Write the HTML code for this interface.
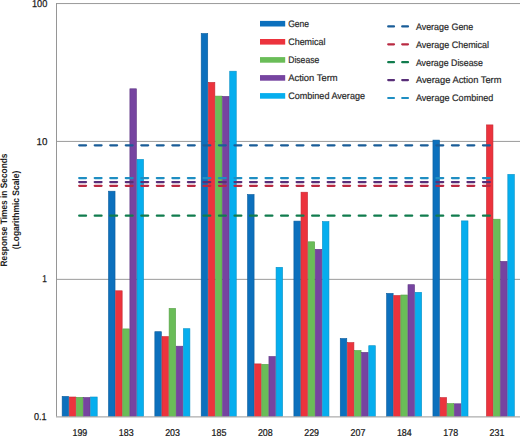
<!DOCTYPE html><html><head><meta charset="utf-8"><style>html,body{margin:0;padding:0;background:#fff;overflow:hidden;}svg{display:block;text-rendering:geometricPrecision;}</style></head><body>
<svg width="520" height="436" viewBox="0 0 520 436" font-family='"Liberation Sans", sans-serif'>
<rect width="520" height="436" fill="#fff"/>
<line x1="56.50" y1="3.55" x2="520" y2="3.55" stroke="#9a9a9a" stroke-width="1"/>
<line x1="56.50" y1="141.42" x2="520" y2="141.42" stroke="#9a9a9a" stroke-width="1"/>
<line x1="56.50" y1="279.35" x2="520" y2="279.35" stroke="#9a9a9a" stroke-width="1"/>
<rect x="62.15" y="396.40" width="6.53" height="20.30" fill="#0c70bd" stroke="#0b5c9c" stroke-width="0.6"/>
<rect x="69.28" y="397.00" width="6.53" height="19.70" fill="#ec333d" stroke="#c42a34" stroke-width="0.6"/>
<rect x="76.41" y="397.30" width="6.53" height="19.40" fill="#6abd58" stroke="#58a048" stroke-width="0.6"/>
<rect x="83.54" y="397.50" width="6.53" height="19.20" fill="#7644a0" stroke="#5f3684" stroke-width="0.6"/>
<rect x="90.67" y="397.00" width="6.53" height="19.70" fill="#06aeee" stroke="#0890c6" stroke-width="0.6"/>
<rect x="108.50" y="191.20" width="6.53" height="225.50" fill="#0c70bd" stroke="#0b5c9c" stroke-width="0.6"/>
<rect x="115.63" y="290.80" width="6.53" height="125.90" fill="#ec333d" stroke="#c42a34" stroke-width="0.6"/>
<rect x="122.76" y="328.90" width="6.53" height="87.80" fill="#6abd58" stroke="#58a048" stroke-width="0.6"/>
<rect x="129.89" y="88.80" width="6.53" height="327.90" fill="#7644a0" stroke="#5f3684" stroke-width="0.6"/>
<rect x="137.02" y="159.40" width="6.53" height="257.30" fill="#06aeee" stroke="#0890c6" stroke-width="0.6"/>
<rect x="154.85" y="331.70" width="6.53" height="85.00" fill="#0c70bd" stroke="#0b5c9c" stroke-width="0.6"/>
<rect x="161.98" y="336.60" width="6.53" height="80.10" fill="#ec333d" stroke="#c42a34" stroke-width="0.6"/>
<rect x="169.11" y="308.40" width="6.53" height="108.30" fill="#6abd58" stroke="#58a048" stroke-width="0.6"/>
<rect x="176.24" y="346.20" width="6.53" height="70.50" fill="#7644a0" stroke="#5f3684" stroke-width="0.6"/>
<rect x="183.37" y="328.70" width="6.53" height="88.00" fill="#06aeee" stroke="#0890c6" stroke-width="0.6"/>
<rect x="201.20" y="33.50" width="6.53" height="383.20" fill="#0c70bd" stroke="#0b5c9c" stroke-width="0.6"/>
<rect x="208.33" y="82.40" width="6.53" height="334.30" fill="#ec333d" stroke="#c42a34" stroke-width="0.6"/>
<rect x="215.46" y="96.10" width="6.53" height="320.60" fill="#6abd58" stroke="#58a048" stroke-width="0.6"/>
<rect x="222.59" y="96.40" width="6.53" height="320.30" fill="#7644a0" stroke="#5f3684" stroke-width="0.6"/>
<rect x="229.72" y="71.20" width="6.53" height="345.50" fill="#06aeee" stroke="#0890c6" stroke-width="0.6"/>
<rect x="247.55" y="194.50" width="6.53" height="222.20" fill="#0c70bd" stroke="#0b5c9c" stroke-width="0.6"/>
<rect x="254.68" y="363.90" width="6.53" height="52.80" fill="#ec333d" stroke="#c42a34" stroke-width="0.6"/>
<rect x="261.81" y="364.30" width="6.53" height="52.40" fill="#6abd58" stroke="#58a048" stroke-width="0.6"/>
<rect x="268.94" y="356.50" width="6.53" height="60.20" fill="#7644a0" stroke="#5f3684" stroke-width="0.6"/>
<rect x="276.07" y="267.30" width="6.53" height="149.40" fill="#06aeee" stroke="#0890c6" stroke-width="0.6"/>
<rect x="293.90" y="221.10" width="6.53" height="195.60" fill="#0c70bd" stroke="#0b5c9c" stroke-width="0.6"/>
<rect x="301.03" y="192.20" width="6.53" height="224.50" fill="#ec333d" stroke="#c42a34" stroke-width="0.6"/>
<rect x="308.16" y="241.80" width="6.53" height="174.90" fill="#6abd58" stroke="#58a048" stroke-width="0.6"/>
<rect x="315.29" y="249.30" width="6.53" height="167.40" fill="#7644a0" stroke="#5f3684" stroke-width="0.6"/>
<rect x="322.42" y="221.60" width="6.53" height="195.10" fill="#06aeee" stroke="#0890c6" stroke-width="0.6"/>
<rect x="340.25" y="338.50" width="6.53" height="78.20" fill="#0c70bd" stroke="#0b5c9c" stroke-width="0.6"/>
<rect x="347.38" y="342.60" width="6.53" height="74.10" fill="#ec333d" stroke="#c42a34" stroke-width="0.6"/>
<rect x="354.51" y="350.50" width="6.53" height="66.20" fill="#6abd58" stroke="#58a048" stroke-width="0.6"/>
<rect x="361.64" y="352.40" width="6.53" height="64.30" fill="#7644a0" stroke="#5f3684" stroke-width="0.6"/>
<rect x="368.77" y="345.70" width="6.53" height="71.00" fill="#06aeee" stroke="#0890c6" stroke-width="0.6"/>
<rect x="386.60" y="293.40" width="6.53" height="123.30" fill="#0c70bd" stroke="#0b5c9c" stroke-width="0.6"/>
<rect x="393.73" y="295.50" width="6.53" height="121.20" fill="#ec333d" stroke="#c42a34" stroke-width="0.6"/>
<rect x="400.86" y="295.00" width="6.53" height="121.70" fill="#6abd58" stroke="#58a048" stroke-width="0.6"/>
<rect x="407.99" y="284.70" width="6.53" height="132.00" fill="#7644a0" stroke="#5f3684" stroke-width="0.6"/>
<rect x="415.12" y="292.30" width="6.53" height="124.40" fill="#06aeee" stroke="#0890c6" stroke-width="0.6"/>
<rect x="432.95" y="140.10" width="6.53" height="276.60" fill="#0c70bd" stroke="#0b5c9c" stroke-width="0.6"/>
<rect x="440.08" y="397.60" width="6.53" height="19.10" fill="#ec333d" stroke="#c42a34" stroke-width="0.6"/>
<rect x="447.21" y="403.60" width="6.53" height="13.10" fill="#6abd58" stroke="#58a048" stroke-width="0.6"/>
<rect x="454.34" y="403.80" width="6.53" height="12.90" fill="#7644a0" stroke="#5f3684" stroke-width="0.6"/>
<rect x="461.47" y="220.90" width="6.53" height="195.80" fill="#06aeee" stroke="#0890c6" stroke-width="0.6"/>
<rect x="486.43" y="124.90" width="6.53" height="291.80" fill="#ec333d" stroke="#c42a34" stroke-width="0.6"/>
<rect x="493.56" y="219.20" width="6.53" height="197.50" fill="#6abd58" stroke="#58a048" stroke-width="0.6"/>
<rect x="500.69" y="261.40" width="6.53" height="155.30" fill="#7644a0" stroke="#5f3684" stroke-width="0.6"/>
<rect x="507.82" y="174.40" width="6.53" height="242.30" fill="#06aeee" stroke="#0890c6" stroke-width="0.6"/>
<line x1="56.50" y1="3" x2="56.50" y2="416.70" stroke="#969696" stroke-width="1"/>
<line x1="56.00" y1="416.90" x2="520" y2="416.90" stroke="#adadad" stroke-width="1.3"/>
<line x1="79.22" y1="145.30" x2="495.68" y2="145.30" stroke="#1a5d98" stroke-width="2.3" stroke-linecap="round" stroke-dasharray="6.8 8.73"/>
<line x1="79.22" y1="215.70" x2="495.68" y2="215.70" stroke="#117c4e" stroke-width="2.3" stroke-linecap="round" stroke-dasharray="6.8 8.73"/>
<line x1="79.22" y1="185.80" x2="495.68" y2="185.80" stroke="#b92a42" stroke-width="2.3" stroke-linecap="round" stroke-dasharray="6.8 8.73"/>
<line x1="79.22" y1="182.10" x2="495.68" y2="182.10" stroke="#582e78" stroke-width="2.3" stroke-linecap="round" stroke-dasharray="6.8 8.73"/>
<line x1="79.22" y1="178.10" x2="495.68" y2="178.10" stroke="#1f8ec2" stroke-width="2.3" stroke-linecap="round" stroke-dasharray="6.8 8.73"/>
<text x="31.95" y="6.90" font-size="10.00" fill="#1a1a1a" stroke="#1a1a1a" stroke-width="0.25" textLength="15.35" lengthAdjust="spacingAndGlyphs">100</text>
<text x="36.55" y="144.70" font-size="10.00" fill="#1a1a1a" stroke="#1a1a1a" stroke-width="0.25" textLength="10.85" lengthAdjust="spacingAndGlyphs">10</text>
<text x="42.35" y="282.30" font-size="10.00" fill="#1a1a1a" stroke="#1a1a1a" stroke-width="0.25" textLength="4.60" lengthAdjust="spacingAndGlyphs">1</text>
<text x="34.00" y="419.60" font-size="10.00" fill="#1a1a1a" stroke="#1a1a1a" stroke-width="0.25" textLength="12.60" lengthAdjust="spacingAndGlyphs">0.1</text>
<text x="79.88" y="436.20" font-size="10.00" text-anchor="middle" fill="#1a1a1a" stroke="#1a1a1a" stroke-width="0.25" textLength="14.80" lengthAdjust="spacingAndGlyphs">199</text>
<text x="126.23" y="436.20" font-size="10.00" text-anchor="middle" fill="#1a1a1a" stroke="#1a1a1a" stroke-width="0.25" textLength="14.80" lengthAdjust="spacingAndGlyphs">183</text>
<text x="172.57" y="436.20" font-size="10.00" text-anchor="middle" fill="#1a1a1a" stroke="#1a1a1a" stroke-width="0.25" textLength="14.80" lengthAdjust="spacingAndGlyphs">203</text>
<text x="218.92" y="436.20" font-size="10.00" text-anchor="middle" fill="#1a1a1a" stroke="#1a1a1a" stroke-width="0.25" textLength="14.80" lengthAdjust="spacingAndGlyphs">185</text>
<text x="265.28" y="436.20" font-size="10.00" text-anchor="middle" fill="#1a1a1a" stroke="#1a1a1a" stroke-width="0.25" textLength="14.80" lengthAdjust="spacingAndGlyphs">208</text>
<text x="311.62" y="436.20" font-size="10.00" text-anchor="middle" fill="#1a1a1a" stroke="#1a1a1a" stroke-width="0.25" textLength="14.80" lengthAdjust="spacingAndGlyphs">229</text>
<text x="357.98" y="436.20" font-size="10.00" text-anchor="middle" fill="#1a1a1a" stroke="#1a1a1a" stroke-width="0.25" textLength="14.80" lengthAdjust="spacingAndGlyphs">207</text>
<text x="404.32" y="436.20" font-size="10.00" text-anchor="middle" fill="#1a1a1a" stroke="#1a1a1a" stroke-width="0.25" textLength="14.80" lengthAdjust="spacingAndGlyphs">184</text>
<text x="450.68" y="436.20" font-size="10.00" text-anchor="middle" fill="#1a1a1a" stroke="#1a1a1a" stroke-width="0.25" textLength="14.80" lengthAdjust="spacingAndGlyphs">178</text>
<text x="497.02" y="436.20" font-size="10.00" text-anchor="middle" fill="#1a1a1a" stroke="#1a1a1a" stroke-width="0.25" textLength="14.80" lengthAdjust="spacingAndGlyphs">231</text>
<g transform="translate(0,210) rotate(-90)"><text x="0" y="7.3" font-size="9.4" font-weight="bold" text-anchor="middle" fill="#222" textLength="112.9" lengthAdjust="spacingAndGlyphs">Response Times in Seconds</text><text x="0" y="19.4" font-size="9.4" font-weight="bold" text-anchor="middle" fill="#222" textLength="78.4" lengthAdjust="spacingAndGlyphs">(Logarithmic Scale)</text></g>
<rect x="260" y="20.90" width="25.2" height="5.6" fill="#0c70bd"/>
<text x="288.2" y="27.10" font-size="9.4" fill="#2a2a2a" stroke="#2a2a2a" stroke-width="0.2" textLength="20.9" lengthAdjust="spacingAndGlyphs">Gene</text>
<rect x="260" y="39.00" width="25.2" height="5.6" fill="#ec333d"/>
<text x="288.2" y="45.20" font-size="9.4" fill="#2a2a2a" stroke="#2a2a2a" stroke-width="0.2" textLength="37.3" lengthAdjust="spacingAndGlyphs">Chemical</text>
<rect x="260" y="57.10" width="25.2" height="5.6" fill="#6abd58"/>
<text x="288.2" y="63.30" font-size="9.4" fill="#2a2a2a" stroke="#2a2a2a" stroke-width="0.2" textLength="31.1" lengthAdjust="spacingAndGlyphs">Disease</text>
<rect x="260" y="75.10" width="25.2" height="5.6" fill="#7644a0"/>
<text x="288.2" y="81.30" font-size="9.4" fill="#2a2a2a" stroke="#2a2a2a" stroke-width="0.2" textLength="49.5" lengthAdjust="spacingAndGlyphs">Action Term</text>
<rect x="260" y="93.10" width="25.2" height="5.6" fill="#06aeee"/>
<text x="288.2" y="99.30" font-size="9.4" fill="#2a2a2a" stroke="#2a2a2a" stroke-width="0.2" textLength="76.8" lengthAdjust="spacingAndGlyphs">Combined Average</text>
<line x1="388.2" y1="26.40" x2="408" y2="26.40" stroke="#1a5d98" stroke-width="2.2" stroke-linecap="round" stroke-dasharray="5.8 8.2"/>
<text x="415.9" y="29.70" font-size="9.4" fill="#2a2a2a" stroke="#2a2a2a" stroke-width="0.2" textLength="57.4" lengthAdjust="spacingAndGlyphs">Average Gene</text>
<line x1="388.2" y1="44.30" x2="408" y2="44.30" stroke="#b92a42" stroke-width="2.2" stroke-linecap="round" stroke-dasharray="5.8 8.2"/>
<text x="415.9" y="47.60" font-size="9.4" fill="#2a2a2a" stroke="#2a2a2a" stroke-width="0.2" textLength="73.2" lengthAdjust="spacingAndGlyphs">Average Chemical</text>
<line x1="388.2" y1="62.20" x2="408" y2="62.20" stroke="#117c4e" stroke-width="2.2" stroke-linecap="round" stroke-dasharray="5.8 8.2"/>
<text x="415.9" y="65.50" font-size="9.4" fill="#2a2a2a" stroke="#2a2a2a" stroke-width="0.2" textLength="67.0" lengthAdjust="spacingAndGlyphs">Average Disease</text>
<line x1="388.2" y1="80.10" x2="408" y2="80.10" stroke="#582e78" stroke-width="2.2" stroke-linecap="round" stroke-dasharray="5.8 8.2"/>
<text x="415.9" y="83.40" font-size="9.4" fill="#2a2a2a" stroke="#2a2a2a" stroke-width="0.2" textLength="85.6" lengthAdjust="spacingAndGlyphs">Average Action Term</text>
<line x1="388.2" y1="98.00" x2="408" y2="98.00" stroke="#1f8ec2" stroke-width="2.2" stroke-linecap="round" stroke-dasharray="5.8 8.2"/>
<text x="415.9" y="101.30" font-size="9.4" fill="#2a2a2a" stroke="#2a2a2a" stroke-width="0.2" textLength="77.5" lengthAdjust="spacingAndGlyphs">Average Combined</text>
</svg></body></html>
